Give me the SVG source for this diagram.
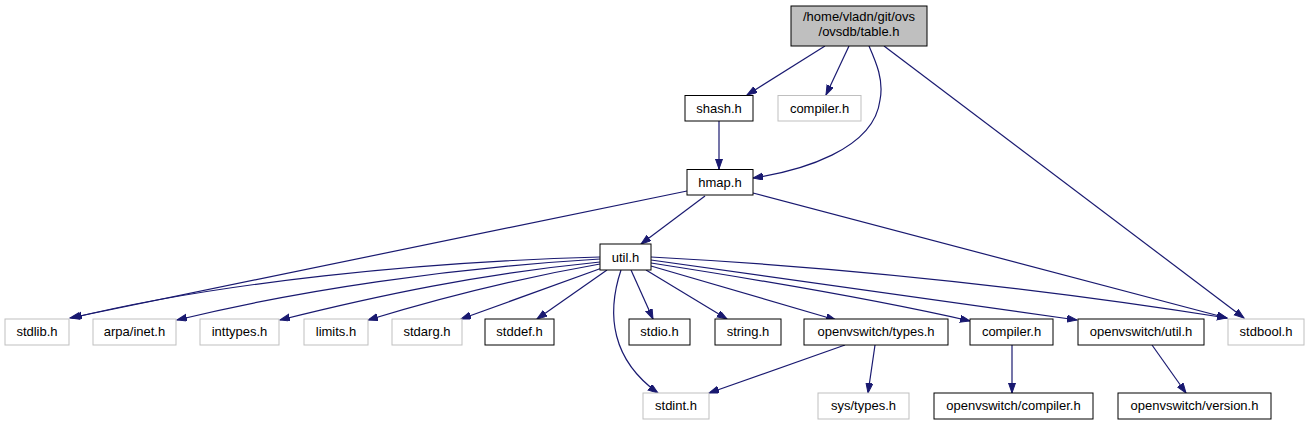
<svg xmlns="http://www.w3.org/2000/svg" width="1309" height="425" viewBox="0 0 1309 425">
<style>
.n rect{fill:#fff;stroke:#000;stroke-width:1}
.g rect{fill:#fff;stroke:#bfbfbf;stroke-width:1}
.top rect{fill:#bfbfbf;stroke:#000;stroke-width:1}
text{font-family:"Liberation Sans",Arial,sans-serif;font-size:13px;fill:#000;text-anchor:middle}
#edges path{fill:none;stroke:#191970;stroke-width:1.2;marker-end:url(#ah)}
</style>
<defs>
<marker id="ah" markerUnits="userSpaceOnUse" markerWidth="11" markerHeight="8" refX="10" refY="3.5" orient="auto" viewBox="0 0 11 8">
<path d="M0,0 L10,3.5 L0,7 z" fill="#191970" stroke="#191970" stroke-width="1"/>
</marker>
</defs>
<rect width="1309" height="425" fill="#fff"/>
<g id="edges">
<path d="M825,46 L747,95"/>
<path d="M849,46 L826,95"/>
<path d="M869,46 C876,62 884,80 880,100 C874,150 800,171 753,178"/>
<path d="M884,46 L1244,318"/>
<path d="M719,121 L719,169"/>
<path d="M705,196 L641,244"/>
<path d="M687,191 L70,318"/>
<path d="M753,193 L1227,318"/>
<path d="M600,257 C420,262 220,282 72,318"/>
<path d="M600,259 C450,268 300,290 177,320"/>
<path d="M600,262 C480,274 380,295 280,320"/>
<path d="M600,264 C520,278 440,298 368,320"/>
<path d="M602,268 L461,319"/>
<path d="M607,270 L537,319"/>
<path d="M631,270 L653,319"/>
<path d="M646,270 L727,319"/>
<path d="M651,266 L836,320"/>
<path d="M651,263 C780,283 900,305 970,321"/>
<path d="M651,260 L1077,320"/>
<path d="M651,257 C800,265 1000,282 1227,318"/>
<path d="M621,270 C606,315 612,360 658,393"/>
<path d="M845,345 L709,393"/>
<path d="M875,345 L868,393"/>
<path d="M1012,345 L1012,393"/>
<path d="M1152,345 L1186,393"/>
</g>
<g id="table_h" class="top"><rect x="791" y="6" width="136" height="40"/><text x="859" y="21">/home/vladn/git/ovs</text><text x="859" y="36">/ovsdb/table.h</text></g>
<g id="shash_h" class="n"><rect x="685" y="95.5" width="68" height="25.5"/><text x="719" y="113">shash.h</text></g>
<g id="compiler_h_top" class="g"><rect x="778" y="95.5" width="83" height="25.5"/><text x="819.5" y="113">compiler.h</text></g>
<g id="hmap_h" class="n"><rect x="687" y="169.5" width="66" height="25.5"/><text x="720" y="187">hmap.h</text></g>
<g id="util_h" class="n"><rect x="600" y="244" width="51" height="26"/><text x="625.5" y="261.5">util.h</text></g>
<g id="stdlib_h" class="g"><rect x="5" y="319" width="64" height="26"/><text x="37" y="336">stdlib.h</text></g>
<g id="arpa_inet_h" class="g"><rect x="93" y="319" width="83" height="26"/><text x="134.5" y="336">arpa/inet.h</text></g>
<g id="inttypes_h" class="g"><rect x="200" y="319" width="79" height="26"/><text x="239.5" y="336">inttypes.h</text></g>
<g id="limits_h" class="g"><rect x="304" y="319" width="64" height="26"/><text x="336" y="336">limits.h</text></g>
<g id="stdarg_h" class="g"><rect x="392" y="319" width="70" height="26"/><text x="427" y="336">stdarg.h</text></g>
<g id="stddef_h" class="n"><rect x="485" y="319" width="69" height="26"/><text x="519.5" y="336">stddef.h</text></g>
<g id="stdio_h" class="n"><rect x="629" y="319" width="61" height="26"/><text x="659.5" y="336">stdio.h</text></g>
<g id="string_h" class="n"><rect x="715" y="319" width="66" height="26"/><text x="748" y="336">string.h</text></g>
<g id="ovs_types_h" class="n"><rect x="804" y="319" width="144" height="26"/><text x="876" y="336">openvswitch/types.h</text></g>
<g id="compiler_h" class="n"><rect x="970" y="319" width="83" height="26"/><text x="1011.5" y="336">compiler.h</text></g>
<g id="ovs_util_h" class="n"><rect x="1078" y="319" width="126" height="26"/><text x="1141" y="336">openvswitch/util.h</text></g>
<g id="stdbool_h" class="g"><rect x="1228" y="319" width="76" height="26"/><text x="1266" y="336">stdbool.h</text></g>
<g id="stdint_h" class="g"><rect x="643" y="393" width="66" height="26"/><text x="676" y="410">stdint.h</text></g>
<g id="sys_types_h" class="g"><rect x="818" y="393" width="91" height="26"/><text x="863.5" y="410">sys/types.h</text></g>
<g id="ovs_compiler_h" class="n"><rect x="934" y="393" width="159" height="26"/><text x="1013.5" y="410">openvswitch/compiler.h</text></g>
<g id="ovs_version_h" class="n"><rect x="1118" y="393" width="153" height="26"/><text x="1194.5" y="410">openvswitch/version.h</text></g>
</svg>
